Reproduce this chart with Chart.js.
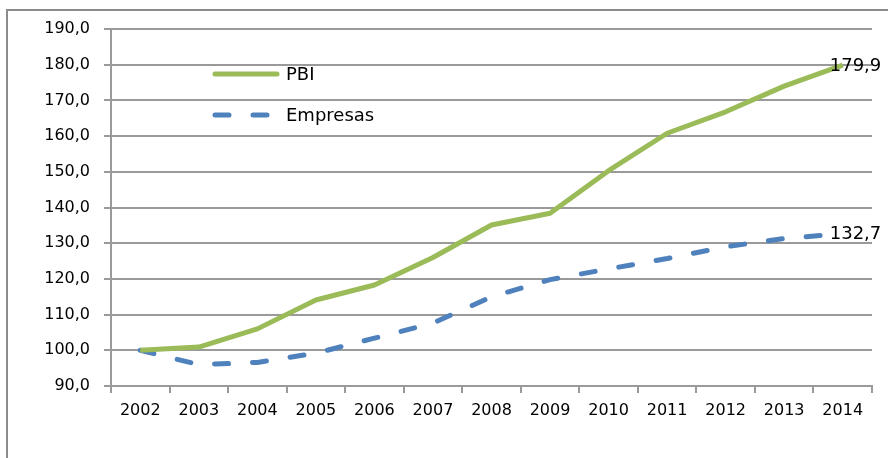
<!DOCTYPE html>
<html>
<head>
<meta charset="utf-8">
<script src="https://cdn.jsdelivr.net/npm/chart.js@4.4.1/dist/chart.umd.min.js"></script>
<style>
  html, body { margin: 0; padding: 0; background: #fff; }
  #wrap { width: 888px; height: 458px; position: relative; }
</style>
</head>
<body>
<div id="wrap"><canvas id="myChart" width="888" height="458"></canvas></div>
<script>
const years = ["2002", "2003", "2004", "2005", "2006", "2007", "2008", "2009", "2010", "2011", "2012", "2013", "2014"];
const pbi = [100.0, 100.9, 106.0, 114.1, 118.3, 126.0, 135.1, 138.4, 150.3, 160.8, 166.8, 174.0, 179.9];
const empresas = [100.0, 96.0, 96.6, 99.2, 103.4, 107.6, 115.0, 119.8, 122.8, 125.7, 129.0, 131.3, 132.7];
const yTicks = [90, 100, 110, 120, 130, 140, 150, 160, 170, 180, 190];

const green = "#9bbb59";
const blue = "#4f81bd";
const grey = "#9a9a9a";
const font = "DejaVu Sans";

const fmt = v => v.toFixed(1).replace(".", ",");

// outer frame around the chart object
const frame = {
    id: "frame",
    beforeDraw(chart) {
        const c = chart.ctx;
        c.save();
        c.strokeStyle = "#8c8c8c";
        c.lineWidth = 2;
        c.beginPath();
        c.moveTo(7, chart.height);
        c.lineTo(7, 10);
        c.lineTo(chart.width, 10);
        c.stroke();
        c.restore();
    }
};

// legend drawn inside the plot, upper left
const innerLegend = {
    id: "innerLegend",
    afterDraw(chart) {
        const c = chart.ctx;
        const a = chart.chartArea;
        c.save();
        chart.data.datasets.forEach((ds, i) => {
            const y = a.top + 45 + i * 41;
            const x0 = a.left + 104;
            c.strokeStyle = ds.borderColor;
            c.lineWidth = ds.borderWidth;
            c.lineCap = "round";
            c.setLineDash(ds.borderDash || []);
            c.beginPath();
            c.moveTo(x0, y);
            c.lineTo(x0 + 62, y);
            c.stroke();
            c.setLineDash([]);
            c.fillStyle = "#000";
            c.font = "18px '" + font + "'";
            c.textAlign = "left";
            c.textBaseline = "middle";
            c.fillText(ds.label, x0 + 71, y + 1);
        });
        c.restore();
    }
};

// value label next to the last point of each series
const endLabels = {
    id: "endLabels",
    afterDatasetsDraw(chart) {
        const c = chart.ctx;
        c.save();
        c.fillStyle = "#000";
        c.font = "18px '" + font + "'";
        c.textAlign = "left";
        c.textBaseline = "middle";
        chart.data.datasets.forEach((ds, i) => {
            const pts = chart.getDatasetMeta(i).data;
            const last = pts[pts.length - 1];
            c.fillText(fmt(ds.data[ds.data.length - 1]), last.x - 13, last.y + 1);
        });
        c.restore();
    }
};

const ctx = document.getElementById("myChart").getContext("2d");
new Chart(ctx, {
    type: "line",
    data: {
        labels: years,
        datasets: [
            {
                label: "PBI",
                data: pbi,
                borderColor: green,
                borderWidth: 5,
                pointRadius: 0,
                tension: 0,
                borderJoinStyle: "round"
            },
            {
                label: "Empresas",
                data: empresas,
                borderColor: blue,
                borderWidth: 5,
                borderDash: [14, 24],
                borderCapStyle: "round",
                pointRadius: 0,
                tension: 0
            }
        ]
    },
    options: {
        responsive: false,
        animation: false,
        layout: { padding: { left: 0, right: 16, top: 29, bottom: 0 } },
        plugins: {
            legend: { display: false },
            tooltip: { enabled: false }
        },
        scales: {
            x: {
                offset: true,
                grid: {
                    offset: true,
                    drawOnChartArea: false,
                    color: grey,
                    lineWidth: 2,
                    tickLength: 7
                },
                border: { color: grey, width: 2 },
                ticks: {
                    color: "#000",
                    font: { family: font, size: 16 },
                    padding: 8,
                    maxRotation: 0
                },
                afterFit: s => { s.height = 72; }
            },
            y: {
                min: 90,
                max: 190,
                afterBuildTicks: s => { s.ticks = yTicks.map(v => ({ value: v })); },
                grid: { color: grey, lineWidth: 2, tickLength: 7 },
                border: { color: grey, width: 2 },
                ticks: {
                    color: "#000",
                    font: { family: font, size: 16 },
                    padding: 14,
                    callback: v => fmt(v)
                },
                afterFit: s => { s.width = 111; }
            }
        }
    },
    plugins: [frame, innerLegend, endLabels]
});
</script>
</body>
</html>
